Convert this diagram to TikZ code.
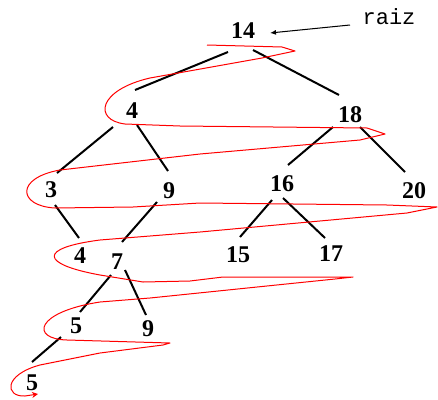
\documentclass[tikz,border=0pt]{standalone}
\usepackage{fontspec}
\setmainfont{Liberation Serif}
\newfontfamily\monofnt{Liberation Mono}
\usetikzlibrary{arrows.meta,calc}
\tikzset{
  num/.style={inner sep=0pt, font=\fontsize{24}{24}\selectfont\bfseries},
  lbl/.style={inner sep=0pt, font=\fontsize{22}{22}\selectfont\monofnt},
  edge/.style={line width=2pt, black},
  walk/.style={red, line width=1pt, line join=round},
}
\begin{document}
\begin{tikzpicture}[x=1pt,y=-1pt]
\useasboundingbox (0,0) rectangle (438,399);
\node[num] (n14) at (243,31) {14};
\node[lbl] (raiz) at (389,17) {raiz};
\node[num] (n4) at (132,111) {4};
\node[num] (n18) at (350,115) {18};
\node[num] (n3) at (51,190) {3};
\node[num] (n9) at (169,191) {9};
\node[num] (n16) at (282,184) {16};
\node[num] (n20) at (414,191) {20};
\node[num] (n4b) at (80,256) {4};
\node[num] (n7) at (117,262) {7};
\node[num] (n15) at (238,255) {15};
\node[num] (n17) at (331,254) {17};
\node[num] (n5) at (76,326) {5};
\node[num] (n9b) at (148,329) {9};
\node[num] (n5b) at (32,383) {5};

\draw[edge] ($(n14)+(-15,21)$) -- ($(n4)+(3,-21)$);
\draw[edge] ($(n14)+(10,19)$) -- ($(n18)+(-11,-20)$);
\draw[edge] ($(n4)+(-19,16)$) -- ($(n3)+(6,-17)$);
\draw[edge] ($(n4)+(5,14)$) -- ($(n9)+(-1,-20)$);
\draw[edge] ($(n18)+(-17,12)$) -- ($(n16)+(6,-19)$);
\draw[edge] ($(n18)+(10,12)$) -- ($(n20)+(-9,-19)$);
\draw[edge] ($(n3)+(4,15)$) -- ($(n4b)+(-1,-18)$);
\draw[edge] ($(n9)+(-12,11)$) -- ($(n7)+(5,-20)$);
\draw[edge] ($(n16)+(-10,16)$) -- ($(n15)+(2,-18)$);
\draw[edge] ($(n16)+(1,14)$) -- ($(n17)+(-6,-16)$);
\draw[edge] ($(n7)+(-6,13)$) -- ($(n5)+(4,-14)$);
\draw[edge] ($(n7)+(8,8)$) -- ($(n9b)+(-2,-14)$);
\draw[edge] ($(n5)+(-15,11)$) -- ($(n5b)+(0,-21)$);

\draw[line width=1pt, -{Latex[length=6pt,width=5pt]}] ($(raiz)+(-39,8)$) -- ($(n14)+(27,2)$);

\coordinate (w0) at (207,45);
\coordinate (wend) at (38,394);
\draw[walk, -{Stealth[length=6pt,width=6pt]}] (w0) -- (282,47) -- (295,51) -- (262,58) -- (150,78)
  .. controls (98,90) and (93,120) .. (125,124) -- (180,126) -- (367,128) -- (385,134) -- (360,140)
  -- (200,154) -- (60,170) .. controls (15,178) and (18,206) .. (55,208) -- (133,207) -- (200,203)
  -- (387,205) -- (437,207) -- (407,213) -- (200,232) -- (100,240)
  .. controls (38,248) and (40,264) .. (100,275) -- (143,282) -- (190,281) -- (223,277) -- (353,277)
  -- (335,279) -- (150,298) -- (100,302) .. controls (35,312) and (30,339) .. (67,340) -- (170,343)
  -- (163,345) -- (100,353) -- (40,365) .. controls (3,375) and (5,397) .. (25,396) -- (wend);
\end{tikzpicture}
\end{document}
